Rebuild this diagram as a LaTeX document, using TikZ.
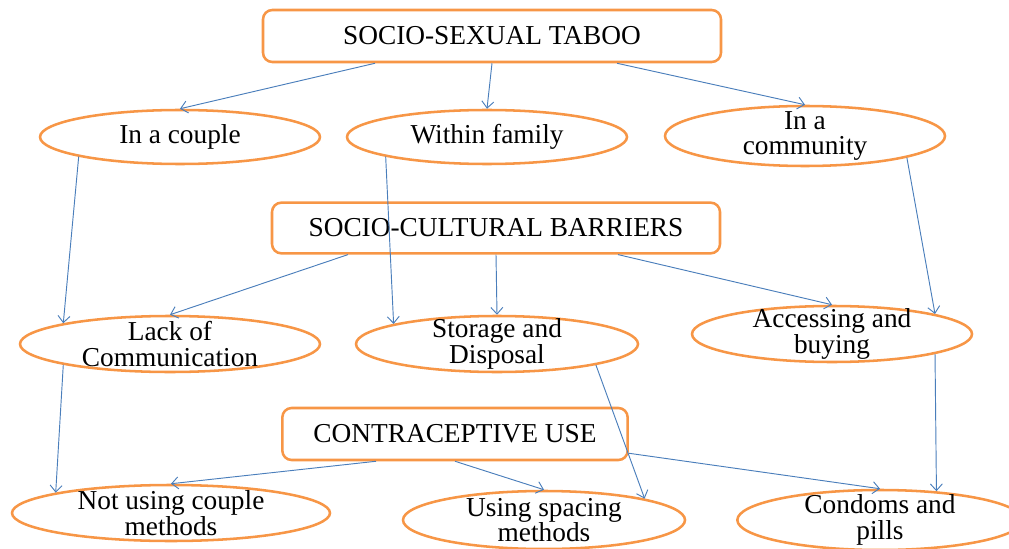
\documentclass[tikz,border=0pt]{standalone}
\usepackage{fontspec}
\setmainfont{Liberation Serif}
\usetikzlibrary{positioning,shapes.geometric,arrows.meta,calc}
\definecolor{boxorange}{RGB}{247,150,70}
\definecolor{linkblue}{RGB}{74,126,187}

\begin{document}
\begin{tikzpicture}[x=0.75pt,y=-0.75pt,
  font=\fontsize{20.5}{19}\selectfont,
  tabbox/.style={rectangle,draw=boxorange,line width=1.9pt,rounded corners=7pt,fill=white,inner sep=0pt},
  oval/.style={ellipse,draw=boxorange,line width=1.9pt,fill=white,align=center,inner xsep=0pt,inner ysep=-6pt},
  link/.style={draw=linkblue,line width=0.7pt,-{Straight Barb[length=5pt,width=9pt]}}]
\useasboundingbox (0,0) rectangle (1009,549);
% three headings
\node [tabbox,minimum width=343.5pt,minimum height=39pt] (taboo) at (492,36) {SOCIO-SEXUAL TABOO};
\node [tabbox,minimum width=336pt,minimum height=38pt] (barriers) at (496,228) {SOCIO-CULTURAL BARRIERS};
\node [tabbox,minimum width=259pt,minimum height=39pt] (contra) at (455,434) {CONTRACEPTIVE USE};
% first row
\node [oval,minimum width=210pt,minimum height=40.5pt] (couple) at (180,137) {In a couple};
\node [oval,minimum width=210pt,minimum height=40.5pt] (family) at (487,137) {Within family};
\node [oval,minimum width=210pt,minimum height=45pt] (community) at (805,136) {In a\\community};
% second row
\node [oval,minimum width=225pt,minimum height=42pt] (lack) at (170,344) {Lack of\\Communication};
\node [oval,minimum width=211.5pt,minimum height=42pt] (storage) at (497,344) {Storage and\\Disposal};
\node [oval,minimum width=210pt,minimum height=42pt] (access) at (832,334) {Accessing and\\buying};
% third row
\node [oval,minimum width=238.5pt,minimum height=42pt] (notusing) at (171,513) {Not using couple\\methods};
\node [oval,minimum width=211.5pt,minimum height=43.5pt] (spacing) at (544,520) {Using spacing\\methods};
\node [oval,minimum width=214pt,minimum height=45pt] (condoms) at (880,520) {Condoms and\\pills};
% links
\draw [link] ($(taboo.south)+(-117,0)$) -- (couple.north);
\draw [link] (taboo.south) -- (family.north);
\draw [link] ($(taboo.south)+(125,0)$) -- (community.north);
\draw [link] (couple.191) -- (lack.169);
\draw [link] (family.191) -- (storage.169);
\draw [link] (community.348) -- (access.11.5);
\draw [link] ($(barriers.south)+(-148,0)$) -- (lack.north);
\draw [link] (barriers.south) -- (storage.north);
\draw [link] ($(barriers.south)+(122,0)$) -- (access.north);
\draw [link] (lack.191) -- (notusing.170);
\draw [link] (storage.348.5) -- (spacing.12);
\draw [link] (access.349) -- (condoms.27);
\draw [link] ($(contra.south)+(-79,0)$) -- (notusing.north);
\draw [link] (contra.south) -- (spacing.north);
\draw [link] ($(contra.south east)+(0,-8)$) -- (condoms.north);
\end{tikzpicture}
\end{document}
